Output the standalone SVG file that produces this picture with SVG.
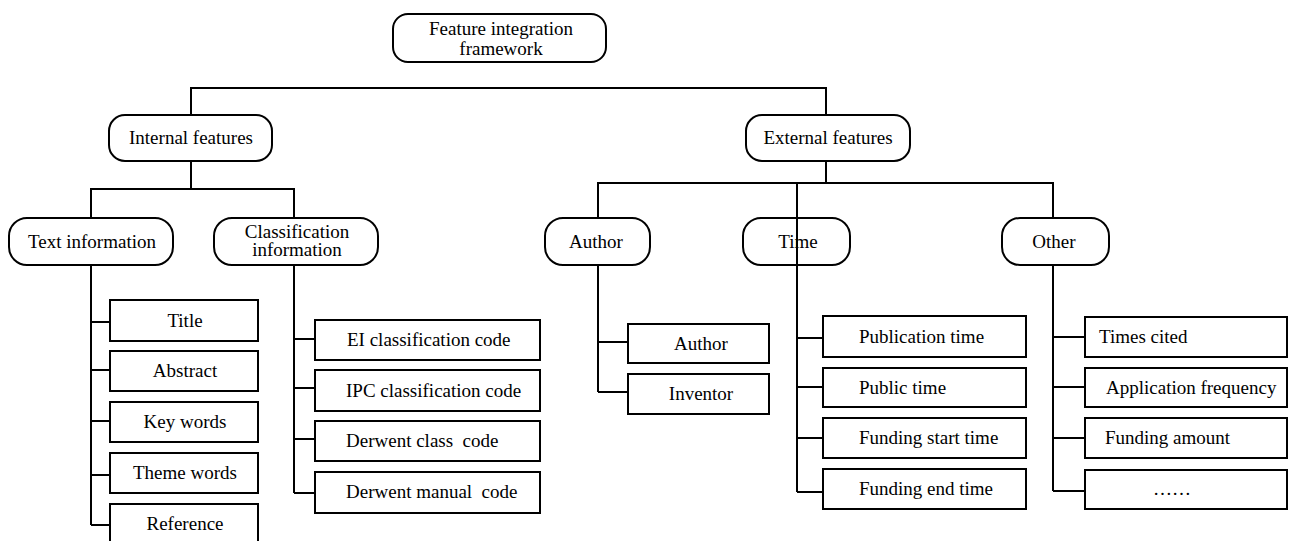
<svg xmlns="http://www.w3.org/2000/svg" width="1290" height="541" viewBox="0 0 1290 541">
<style>
.n{fill:#fff;stroke:#000;stroke-width:2}
.t{font-family:"Liberation Serif","Times New Roman",serif;font-size:19px;fill:#000}
.m{text-anchor:middle}
.c{fill:none;stroke:#000;stroke-width:2}
</style>
<rect width="1290" height="541" fill="#fff"/>
<g id="root"><rect class="n" x="393" y="14" width="213" height="48" rx="15"/><text class="t m" x="501" y="34.5">Feature integration</text><text class="t m" x="501" y="54.5">framework</text></g>
<g id="internal"><rect class="n" x="109" y="115" width="163" height="46" rx="16"/><text class="t m" x="191" y="144">Internal features</text></g>
<g id="external"><rect class="n" x="746" y="115" width="164" height="46" rx="16"/><text class="t m" x="828" y="144">External features</text></g>
<g id="textinfo"><rect class="n" x="9" y="218" width="164" height="47" rx="18"/><text class="t m" x="92" y="247.5">Text information</text></g>
<g id="classinfo"><rect class="n" x="214" y="218" width="164" height="47" rx="18"/><text class="t m" x="297" y="237.5">Classification</text><text class="t m" x="297" y="256">information</text></g>
<g id="author"><rect class="n" x="545" y="218" width="105" height="47" rx="18"/><text class="t m" x="596" y="247.5">Author</text></g>
<g id="time"><rect class="n" x="743" y="218" width="107" height="47" rx="18"/><text class="t m" x="798" y="247.5">Time</text></g>
<g id="other"><rect class="n" x="1002" y="218" width="107" height="47" rx="18"/><text class="t m" x="1054" y="247.5">Other</text></g>
<g id="title"><rect class="n" x="110" y="300" width="148" height="41"/><text class="t m" x="185" y="327">Title</text></g>
<g id="abstract"><rect class="n" x="110" y="351" width="148" height="40"/><text class="t m" x="185" y="377">Abstract</text></g>
<g id="keywords"><rect class="n" x="110" y="402" width="148" height="40"/><text class="t m" x="185" y="428">Key words</text></g>
<g id="themewords"><rect class="n" x="110" y="453" width="148" height="40"/><text class="t m" x="185" y="479">Theme words</text></g>
<g id="reference"><rect class="n" x="110" y="504" width="148" height="50"/><text class="t m" x="185" y="530">Reference</text></g>
<g id="ei"><rect class="n" x="315" y="320" width="225" height="40"/><text class="t" x="347" y="346">EI classification code</text></g>
<g id="ipc"><rect class="n" x="315" y="370" width="225" height="41"/><text class="t" x="346" y="397">IPC classification code</text></g>
<g id="dclass"><rect class="n" x="315" y="421" width="225" height="40"/><text class="t" x="346" y="447" style="white-space:pre">Derwent class  code</text></g>
<g id="dmanual"><rect class="n" x="315" y="472" width="225" height="41"/><text class="t" x="346" y="498" style="white-space:pre">Derwent manual  code</text></g>
<g id="author2"><rect class="n" x="628" y="324" width="141" height="39"/><text class="t m" x="701" y="350">Author</text></g>
<g id="inventor"><rect class="n" x="628" y="374" width="141" height="40"/><text class="t m" x="701" y="400">Inventor</text></g>
<g id="pubtime"><rect class="n" x="823" y="316" width="203" height="41"/><text class="t" x="859" y="343">Publication time</text></g>
<g id="publictime"><rect class="n" x="823" y="368" width="203" height="39"/><text class="t" x="859" y="394">Public time</text></g>
<g id="fstart"><rect class="n" x="823" y="418" width="203" height="40"/><text class="t" x="859" y="444">Funding start time</text></g>
<g id="fend"><rect class="n" x="823" y="469" width="203" height="40"/><text class="t" x="859" y="495">Funding end time</text></g>
<g id="cited"><rect class="n" x="1085" y="317" width="202" height="40"/><text class="t" x="1099" y="343">Times cited</text></g>
<g id="appfreq"><rect class="n" x="1085" y="368" width="202" height="39"/><text class="t" x="1106" y="394">Application frequency</text></g>
<g id="famount"><rect class="n" x="1085" y="418" width="202" height="40"/><text class="t" x="1105" y="444">Funding amount</text></g>
<g id="more"><rect class="n" x="1085" y="470" width="202" height="39"/><text class="t" x="1153" y="495">……</text></g>
<g id="connectors" class="c">
<path class="c" d="M191,114V88H826V114"/>
<path class="c" d="M191,161V189M91,217V189H294V217"/>
<path class="c" d="M91,265V525M91,322H110M91,370H110M91,421H110M91,475H110M91,525H110"/>
<path class="c" d="M294,265V493M294,339H315M294,388H315M294,439H315M294,493H315"/>
<path class="c" d="M826,161V183M598,217V183H1053V217M797,183V492"/>
<path class="c" d="M598,265V392M598,342H628M598,392H628"/>
<path class="c" d="M797,338H823M797,387H823M797,438H823M797,492H823"/>
<path class="c" d="M1053,265V491M1053,337H1085M1053,387H1085M1053,438H1085M1053,491H1085"/>
</g>
</svg>
